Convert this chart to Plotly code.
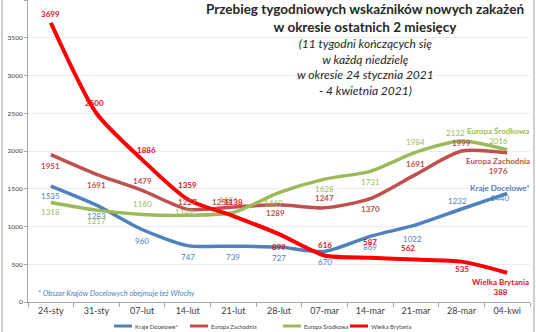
import plotly.graph_objects as go

categories = ["24-sty", "31-sty", "07-lut", "14-lut", "21-lut", "28-lut",
              "07-mar", "14-mar", "21-mar", "28-mar", "04-kwi"]
y_ticks = [0, 500, 1000, 1500, 2000, 2500, 3000, 3500, 4000]

kraje_docelowe = [1535, 1283, 960, 747, 739, 727, 670, 869, 1022, 1232, 1440]
europa_zachodnia = [1951, 1691, 1479, 1227, 1258, 1289, 1247, 1370, 1691, 1999, 1976]
europa_srodkowa = [1318, 1217, 1160, 1149, 1186, 1449, 1628, 1731, 1984, 2132, 2016]
wielka_brytania = [3699, 2500, 1886, 1359, 1138, 899, 616, 587, 562, 535, 388]

series_names = ["Kraje Docelowe*", "Europa Zachodnia", "Europa Środkowa", "Wielka Brytania"]

FONT = "Lato, 'Liberation Sans', Arial, sans-serif"

styles = [
    dict(color="#4F81BD", label="#4F81BD", width=3.5, bold=False),
    dict(color="#C0504D", label="#C0504D", width=3.5, bold=True),
    dict(color="#9BBB59", label="#9BBB59", width=3.5, bold=False),
    dict(color="#FF0000", label="#E8101C", width=4, bold=True),
]

# label pixel offsets (xshift, yshift) per point
offsets = [
    [(0, -10), (0, -11), (0, -11), (0, -11), (0, -11), (0, -11), (0, -11), (0, -11), (-3, -14), (-4, 8), (-7, 0)],
    [(0, -11), (0, -11), (0, 9), (0, 7), (-12, 5), (-4, -8), (0, 10), (0, -10), (0, 10), (0, 8), (-9, -13)],
    [(0, -10), (0, -11), (0, 10), (-3, 3), (-5, 12), (-6, -10), (0, -10), (0, -11), (0, 10), (-6, 8), (-9, 14)],
    [(0, 9), (-2, 10), (4, 10), (0, 14), (0, 14), (0, -13), (0, 10), (0, 16), (-8, 12), (0, -7), (-7, -14)],
]
# legend entry start pixels (line start) for custom legend
legend_x = [114, 190, 283, 350]

all_series = [kraje_docelowe, europa_zachodnia, europa_srodkowa, wielka_brytania]

L, R, T, B = 28, 6, 0, 30
W, H = 536, 332
pw, ph = W - L - R, H - T - B

def px(x):
    return (x - L) / pw

def py(y):
    return (H - B - y) / ph

fig = go.Figure()
annotations = []
shapes = []
for name, vals, st, offs, lx in zip(series_names, all_series, styles, offsets, legend_x):
    fig.add_trace(go.Scatter(
        x=categories, y=vals, name=name, mode="lines",
        line=dict(color=st["color"], width=st["width"], shape="spline", smoothing=0.7),
        hoverinfo="skip", showlegend=False,
    ))
    n = len(vals)
    for i, (c, v) in enumerate(zip(categories, vals)):
        txt = str(v)
        if st["bold"]:
            txt = "<b>" + txt + "</b>"
        if i == n - 1:
            txt = "<b>" + name + "</b><br>" + txt
        dx, dy = offs[i]
        annotations.append(dict(
            x=c, y=v, xref="x", yref="y", text=txt, showarrow=False,
            xanchor="center", yanchor="middle",
            xshift=dx, yshift=dy,
            font=dict(family=FONT, size=8, color=st["label"]),
        ))
    # custom legend entry
    shapes.append(dict(type="line", xref="paper", yref="paper",
                       x0=px(lx), x1=px(lx + 18), y0=py(326), y1=py(326),
                       line=dict(color=st["color"], width=3)))
    annotations.append(dict(
        x=px(lx + 19), y=py(326), xref="paper", yref="paper", showarrow=False,
        xanchor="left", yanchor="middle", text=name,
        font=dict(family=FONT, size=5.8, color="#404040"),
    ))

annotations.append(dict(
    x=px(365), y=py(18), xref="paper", yref="paper", showarrow=False,
    xanchor="center", yanchor="middle",
    text="<b>Przebieg tygodniowych wskaźników nowych zakażeń<br>w okresie ostatnich 2 miesięcy</b>",
    font=dict(family=FONT, size=13.5, color="#262626"), align="center",
))
annotations.append(dict(
    x=px(365), y=py(67), xref="paper", yref="paper", showarrow=False,
    xanchor="center", yanchor="middle",
    text="<i>(11 tygodni kończących się<br>w każdą niedzielę<br>w okresie 24 stycznia 2021<br>- 4 kwietnia 2021)</i>",
    font=dict(family=FONT, size=12, color="#262626"), align="center",
))
annotations.append(dict(
    x=px(36), y=py(293), xref="paper", yref="paper", showarrow=False,
    xanchor="left", yanchor="middle",
    text="<i>* Obszar Krajów Docelowych obejmuje też Włochy</i>",
    font=dict(family=FONT, size=7.5, color="#4F81BD"),
))

shapes += [
    dict(type="line", xref="paper", yref="paper", x0=px(2), x1=px(2), y0=py(-5), y1=py(340),
         line=dict(color="#A0A0A0", width=1)),
    dict(type="line", xref="paper", yref="paper", x0=px(534), x1=px(534), y0=py(-5), y1=py(340),
         line=dict(color="#A0A0A0", width=1)),
]

fig.update_layout(
    width=W, height=H,
    margin=dict(l=L, r=R, t=T, b=B, autoexpand=False),
    paper_bgcolor="white", plot_bgcolor="white",
    annotations=annotations,
    shapes=shapes,
    showlegend=False,
    xaxis=dict(type="category", range=[-0.5, 10.5], autorange=False, showgrid=False,
               showline=True, linecolor="#A6A6A6", automargin=False,
               ticks="outside", tickson="boundaries", ticklen=4, tickcolor="#A6A6A6",
               tickfont=dict(family=FONT, size=9, color="#404040")),
    yaxis=dict(range=[0, 4000], autorange=False, tickvals=y_ticks, showgrid=True,
               gridcolor="#EDEDED", automargin=False,
               showline=True, linecolor="#A6A6A6", ticks="outside", ticklen=3,
               tickcolor="#A6A6A6", zeroline=False,
               tickfont=dict(family=FONT, size=6.5, color="#404040")),
)

fig.write_html("out.html")
